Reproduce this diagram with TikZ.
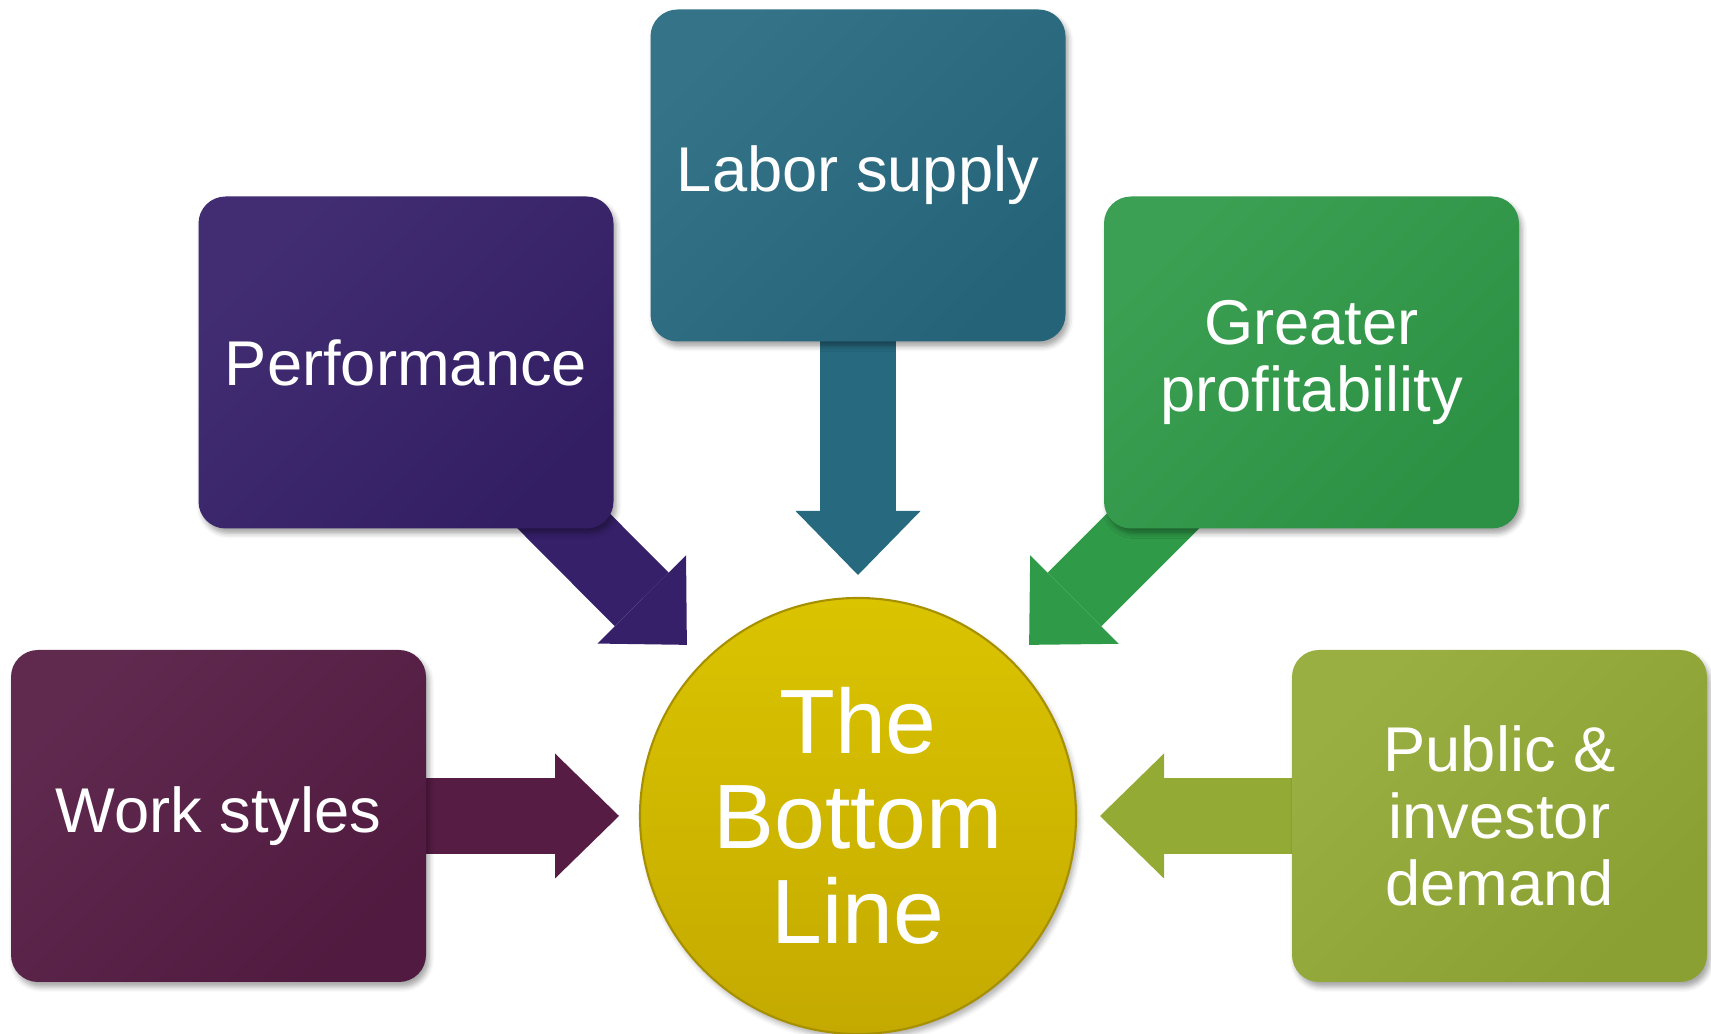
\documentclass[tikz,border=0pt]{standalone}
\usepackage{fontspec}
\setmainfont{Liberation Sans}
\usetikzlibrary{calc,arrows.meta,shadows.blur,backgrounds}

\definecolor{workcol}{HTML}{561C44}
\definecolor{perfcol}{HTML}{36206A}
\definecolor{laborcol}{HTML}{276A80}
\definecolor{profitcol}{HTML}{2F9A48}
\definecolor{publiccol}{HTML}{93AA35}
\definecolor{linetop}{HTML}{DAC400}
\definecolor{linebot}{HTML}{C4AA00}

\tikzset{
	box/.style={rounded corners=0.27cm, minimum width=4.15cm, minimum height=3.32cm, inner sep=0pt,
		top color=#1!94!white, bottom color=#1!94!black, shading angle=45, text=white, align=center,
		font=\fontsize{18}{19}\selectfont,
		blur shadow={shadow xshift=0.03cm, shadow yshift=-0.05cm, shadow blur radius=0.05cm, shadow opacity=35}},
	blockarrow/.style={line width=0.76cm, draw=#1, -{Triangle[width=1.25cm, length=0.64cm, line width=0pt, fill=#1]}},
}

\begin{document}
\begin{tikzpicture}
			%%%%% START %%%%%
			
			\useasboundingbox (0, 0) rectangle (17.11, 10.34);
			
			\node[box=workcol] (work) at (2.185, 2.18) {Work styles};
			\node[box=perfcol] (perf) at (4.06, 6.715) {Performance};
			\node[box=laborcol] (labor) at (8.58, 8.585) {Labor supply};
			\node[box=profitcol] (profit) at (13.115, 6.715) {Greater\\profitability};
			\node[box=publiccol] (public) at (14.995, 2.18) {Public \&\\investor\\demand};
			
			\node[circle, minimum size=4.36cm, inner sep=0pt, top color=linetop, bottom color=linebot,
				draw=linebot!85!black, line width=0.6pt, text=white, align=center, font=\fontsize{26}{27}\selectfont,
				blur shadow={shadow xshift=0.03cm, shadow yshift=-0.05cm, shadow blur radius=0.05cm, shadow opacity=30}]
				(bottom) at (8.58, 2.18) {The\\Bottom\\Line};
			
			\coordinate (tipW) at ($(bottom.center)+(180:2.39)$);
			\coordinate (tipNW) at ($(bottom.center)+(135:2.42)$);
			\coordinate (tipN) at ($(bottom.center)+(90:2.41)$);
			\coordinate (tipNE) at ($(bottom.center)+(45:2.42)$);
			\coordinate (tipE) at ($(bottom.center)+(0:2.42)$);
			
			\begin{scope}[on background layer]
				\draw[blockarrow=workcol] (work.center) -- (tipW);
				\draw[blockarrow=perfcol] (perf.center) -- (tipNW);
				\draw[blockarrow=laborcol] (labor.center) -- (tipN);
				\draw[blockarrow=profitcol] (profit.center) -- (tipNE);
				\draw[blockarrow=publiccol] (public.center) -- (tipE);
			\end{scope}
			
			%%%%% END %%%%%
		\end{tikzpicture}
\end{document}
